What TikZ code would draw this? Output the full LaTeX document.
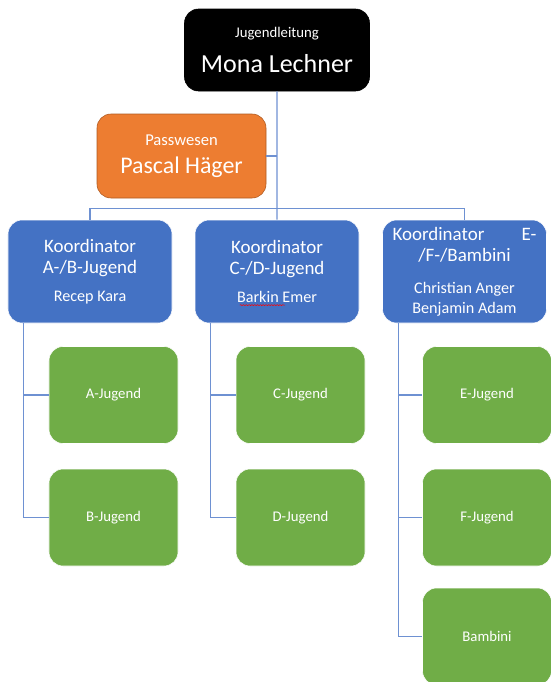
\documentclass[tikz,border=0pt]{standalone}
\usepackage{fontspec}
\setmainfont{Carlito}
\usepackage{tikz}
\usetikzlibrary{arrows,shapes,positioning,decorations.pathmorphing}
\usepackage{xcolor}
\definecolor{ogblack}{RGB}{0,0,0}
\definecolor{ogblue}{RGB}{68,114,196}
\definecolor{oggreen}{RGB}{112,173,71}
\definecolor{ogorange}{RGB}{237,125,49}
\definecolor{ogbrown}{RGB}{174,90,33}
\definecolor{ogline}{RGB}{110,145,210}
\tikzstyle{conn} = [line width=0.9pt,color=ogline]
\tikzstyle{orgbox} = [rectangle, rounded corners=0.35cm, text centered, align=center, text=white, draw=white, thin]
\tikzstyle{lead} = [orgbox, minimum width=4.625cm, minimum height=2.05cm, fill=ogblack, draw=ogblack]
\tikzstyle{koord} = [orgbox, minimum width=4.1cm, minimum height=2.575cm, fill=ogblue, font=\fontsize{13.5}{15}\selectfont]
\tikzstyle{team} = [orgbox, minimum width=3.225cm, minimum height=2.425cm, fill=oggreen, font=\fontsize{10.5}{12}\selectfont]

\begin{document}
\begin{tikzpicture}
\useasboundingbox (0,0) rectangle (13.775,-17.05);
% Leitung
\node (jl) [lead] at (6.925,-1.25) {{\fontsize{10.5}{12}\selectfont Jugendleitung}\\[9pt]{\fontsize{18.5}{21}\selectfont Mona Lechner}};
\node (pw) [orgbox, minimum width=4.225cm, minimum height=2.1cm, fill=ogorange, draw=ogbrown] at (4.5375,-3.9) {{\fontsize{11.8}{13}\selectfont Passwesen}\\[8pt]{\fontsize{17}{19}\selectfont Pascal Häger}};

% Koordinatoren
\node (kab) [koord] at (2.25,-6.7875) {Koordinator\\A-/B-Jugend\\[5pt]{\fontsize{11.5}{13}\selectfont Recep Kara}};
\node (kcd) [koord, right of=kab, node distance=4.675cm] {Koordinator\\C-/D-Jugend\\[5pt]{\fontsize{11.5}{13}\selectfont Barkin Emer}};
\node (kef) [koord, right of=kcd, node distance=4.6875cm] {\makebox[3.6cm][s]{Koordinator\hfill E-}\\/F-/Bambini\\[8pt]{\fontsize{11.5}{12}\selectfont Christian Anger}\\[-1pt]{\fontsize{11.5}{12}\selectfont Benjamin Adam}};

% Mannschaften
\node (aj) [team] at (2.8375,-9.875) {A-Jugend};
\node (bj) [team, below of=aj, node distance=3.0625cm] {B-Jugend};
\node (cj) [team, right of=aj, node distance=4.675cm] {C-Jugend};
\node (dj) [team, below of=cj, node distance=3.0625cm] {D-Jugend};
\node (ej) [team, right of=cj, node distance=4.6625cm] {E-Jugend};
\node (fj) [team, below of=ej, node distance=3.0625cm] {F-Jugend};
\node (bm) [team, below of=fj, node distance=2.975cm] {Bambini};

% Linien
\draw[conn] (jl.south) -- (kcd.north);
\draw[conn] (pw.east) -- (pw.east -| jl.south);
\draw[conn] (kab.north) |- ([yshift=0.275cm]kcd.north) -| (kef.north);
\foreach \k/\t in {kab/aj, kab/bj, kcd/cj, kcd/dj, kef/ej, kef/fj, kef/bm}
  \draw[conn] ([xshift=0.4cm]\k.south west) |- (\t.west);

% Rechtschreibmarke
\draw[red, decorate, decoration={snake, amplitude=0.35pt, segment length=2pt}] ([xshift=-0.93cm, yshift=-0.84cm]kcd.center) -- ([xshift=0.2cm, yshift=-0.84cm]kcd.center);
\end{tikzpicture}
\end{document}
